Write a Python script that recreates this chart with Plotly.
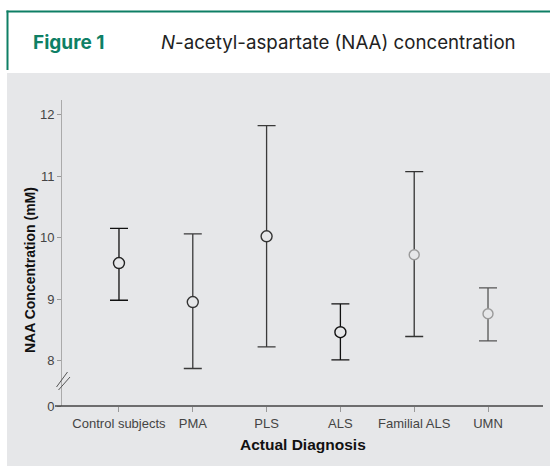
import plotly.graph_objects as go

# ---- data ----
categories = ["Control subjects", "PMA", "PLS", "ALS", "Familial ALS", "UMN"]
means = [9.585, 8.95, 10.02, 8.46, 9.72, 8.76]
upper = [10.15, 10.06, 11.82, 8.92, 11.07, 9.18]
lower = [8.98, 7.87, 8.22, 8.01, 8.39, 8.32]
y_tick_values = [8, 9, 10, 11, 12]
y_tick_labels = ["8", "9", "10", "11", "12"]
zero_label = "0"

# ---- layout geometry ----
W, H = 550, 466
ML, MR, MT, MB = 62, 7, 100, 60
PW, PH = W - ML - MR, H - MT - MB
Y_RANGE = [7.26, 12.236]
X_RANGE = [-0.772, 5.745]


def px(xp):
    return (xp - ML) / PW


def py(yp):
    return (H - MB - yp) / PH


GREY = "#e6e7e9"
GREEN = "#0e7f65"
bar_colors = ["#111111", "#3a3a3a", "#3a3a3a", "#111111", "#333333", "#555555"]
mk_colors = ["#222222", "#333333", "#333333", "#111111", "#9a9a9a", "#9a9a9a"]
mk_sizes = [11, 11, 11, 11, 10, 10]

fig = go.Figure()
for i, cat in enumerate(categories):
    fig.add_trace(go.Scatter(
        x=[i], y=[means[i]], mode="markers", name=cat, showlegend=False,
        marker=dict(symbol="circle", size=mk_sizes[i], color=GREY,
                    line=dict(color=mk_colors[i], width=1.4)),
        error_y=dict(type="data", symmetric=False,
                     array=[upper[i] - means[i]], arrayminus=[means[i] - lower[i]],
                     color=bar_colors[i], thickness=1.3, width=9),
    ))

shapes = [
    # grey panel
    dict(type="rect", xref="paper", yref="paper", x0=px(7), x1=px(W + 5),
         y0=py(73), y1=py(H + 5), fillcolor=GREY, line=dict(width=0), layer="below"),
    # header green lines
    dict(type="line", xref="paper", yref="paper", x0=px(6.5), x1=px(W + 5),
         y0=py(11.5), y1=py(11.5), line=dict(color=GREEN, width=2)),
    dict(type="line", xref="paper", yref="paper", x0=px(7.5), x1=px(7.5),
         y0=py(10.5), y1=py(70), line=dict(color=GREEN, width=2)),
    # x axis line
    dict(type="line", xref="paper", yref="paper", x0=px(55), x1=px(543),
         y0=0, y1=0, line=dict(color="#444444", width=1.3)),
    # axis break marks
    dict(type="line", xref="paper", yref="paper", x0=px(56.5), x1=px(67.5),
         y0=py(387), y1=py(372), line=dict(color="#555555", width=1)),
    dict(type="line", xref="paper", yref="paper", x0=px(58.5), x1=px(70),
         y0=py(390), y1=py(377), line=dict(color="#555555", width=1)),
]

annotations = [
    dict(text="<b>Figure 1</b>", xref="paper", yref="paper", x=px(31), y=py(42),
         xanchor="left", yanchor="middle", showarrow=False,
         font=dict(family="Inter", size=19, color=GREEN)),
    dict(text="<i>N</i>-acetyl-aspartate (NAA) concentration", xref="paper", yref="paper",
         x=px(159), y=py(42), xanchor="left", yanchor="middle", showarrow=False,
         font=dict(family="Inter", size=18.7, color="#222222")),
    dict(text="<b>NAA Concentration (mM)</b>", xref="paper", yref="paper",
         x=px(30), y=py(270), xanchor="center", yanchor="middle", textangle=-90,
         showarrow=False, font=dict(family="Liberation Sans, Arial, sans-serif", size=14, color="#111111")),
    dict(text="<b>Actual Diagnosis</b>", xref="paper", yref="paper",
         x=px(303), y=py(444), xanchor="center", yanchor="middle",
         showarrow=False, font=dict(family="Liberation Sans, Arial, sans-serif", size=15.5, color="#111111")),
]

tick_font = dict(family="Liberation Sans, Arial, sans-serif", size=13, color="#444444")

fig.update_layout(
    width=W, height=H,
    margin=dict(l=ML, r=MR, t=MT, b=MB, pad=0),
    paper_bgcolor="white", plot_bgcolor="rgba(0,0,0,0)",
    shapes=shapes, annotations=annotations,
    font=dict(family="Liberation Sans, Arial, sans-serif", size=12, color="#333333"),
    xaxis=dict(range=X_RANGE, tickmode="array", tickvals=list(range(len(categories))),
               ticktext=categories, showgrid=False, zeroline=False, showline=False,
               ticks="outside", ticklen=5, tickcolor="#999999", tickwidth=1,
               tickfont=tick_font),
    yaxis=dict(range=Y_RANGE, tickmode="array",
               tickvals=[Y_RANGE[0]] + y_tick_values,
               ticktext=[zero_label] + y_tick_labels,
               showgrid=False, zeroline=False, showline=True, linecolor="#aaaaaa",
               linewidth=1, ticks="outside", ticklen=4, tickcolor="#999999",
               tickfont=tick_font),
)

fig.write_html("out.html", config={"displayModeBar": False},
               post_script="document.body.style.margin='0';")
